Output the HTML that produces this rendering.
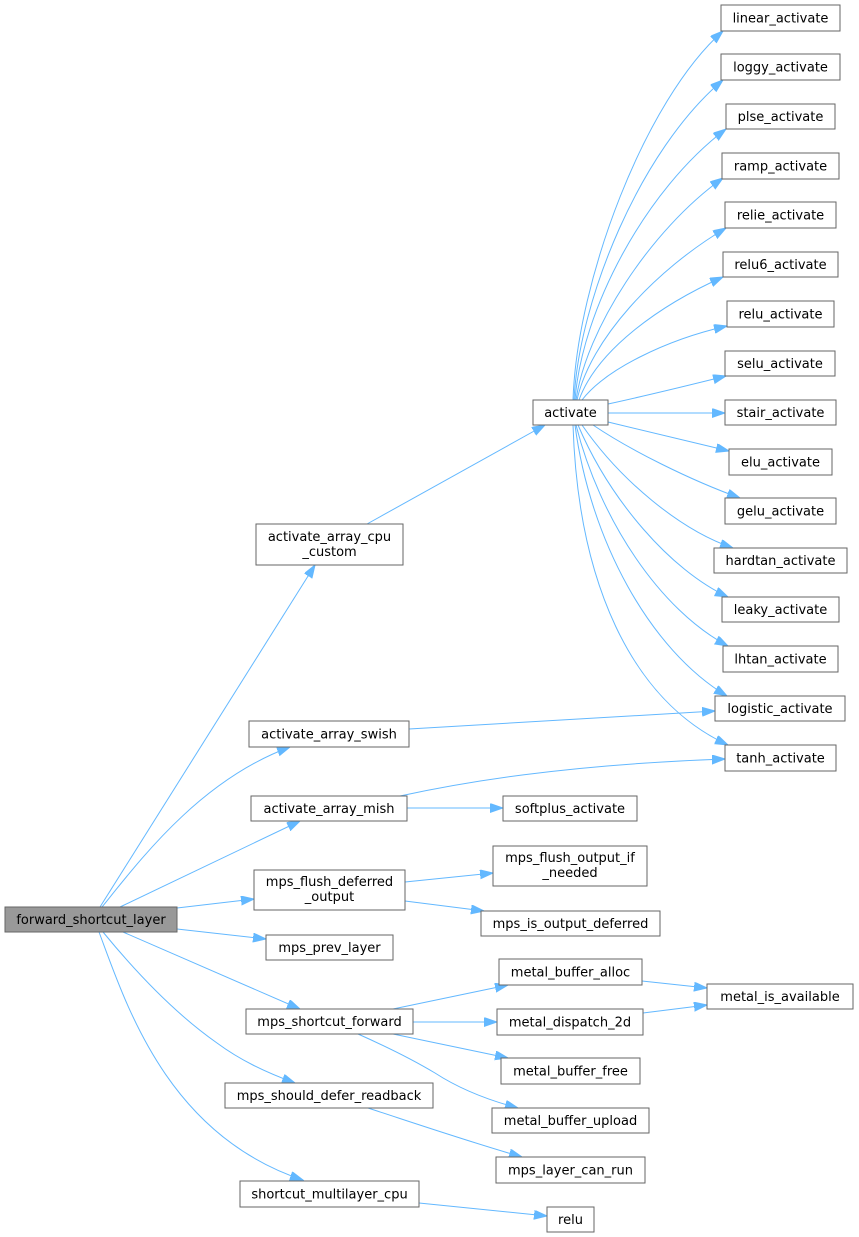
<!DOCTYPE html>
<html><head><meta charset="utf-8"><style>
html,body{margin:0;padding:0;background:#fff;}
svg{display:block;}
text{font-family:"DejaVu Sans","Liberation Sans",sans-serif;font-size:13px;fill:#000;}
.n{fill:#fff;stroke:#666;stroke-width:1;}
.e{fill:none;stroke:#63b8ff;stroke-width:1;}
</style></head><body>
<svg width="859" height="1237" viewBox="0 0 859 1237" xmlns="http://www.w3.org/2000/svg">
<defs>
<marker id="a" markerWidth="14" markerHeight="10" refX="13" refY="4.5" orient="auto" markerUnits="userSpaceOnUse">
<path d="M0,0 L13,4.5 L0,9 z" fill="#63b8ff" stroke="#63b8ff" stroke-width="1"/>
</marker>
</defs>
<rect width="859" height="1237" fill="#fff"/>

<g marker-end="url(#a)">
<path class="e" d="M573,400 C577,280 645,100 723,31"/>
<path class="e" d="M574,400 C579,300 640,150 723,80"/>
<path class="e" d="M575,400 C582,310 645,190 726,129"/>
<path class="e" d="M576,400 C586,330 650,230 723,178"/>
<path class="e" d="M577,400 C590,340 655,270 726,228"/>
<path class="e" d="M579,400 C597,350 660,305 723,277"/>
<path class="e" d="M582,400 C605,370 665,340 727,326"/>
<path class="e" d="M608,404 C640,397 690,385 726,376"/>
<path class="e" d="M608,413 L725,413"/>
<path class="e" d="M608,422 L729,451"/>
<path class="e" d="M593,425 C630,450 690,480 740,498"/>
<path class="e" d="M582,425 C620,480 680,530 733,548"/>
<path class="e" d="M578,425 C610,500 670,570 728,597"/>
<path class="e" d="M576,425 C600,520 660,610 728,646"/>
<path class="e" d="M575,425 C590,540 650,650 727,696"/>
<path class="e" d="M573,425 C578,580 630,700 728,745"/>

<path class="e" d="M367,524 L545,425"/>
<path class="e" d="M100,907 L315,565"/>
<path class="e" d="M102,907 C140,860 200,780 290,747"/>
<path class="e" d="M120,907 L300,821"/>
<path class="e" d="M177,908 L254,899"/>
<path class="e" d="M177,929 L266,939"/>
<path class="e" d="M123,932 L300,1009"/>
<path class="e" d="M103,932 C130,965 170,1010 217,1043 C240,1060 265,1072 295,1083"/>
<path class="e" d="M99,932 C126,1004 167,1135 303,1180"/>

<path class="e" d="M409,729 L715,711"/>
<path class="e" d="M400,796 C460,783 560,765 725,759"/>
<path class="e" d="M407,808 L503,808"/>

<path class="e" d="M405,882 L493,873"/>
<path class="e" d="M405,901 L484,911"/>

<path class="e" d="M393,1009 L508,985"/>
<path class="e" d="M413,1022 L497,1022"/>
<path class="e" d="M393,1034 L508,1058"/>
<path class="e" d="M358,1034 C385,1046 410,1058 435,1073 C455,1086 480,1098 518,1108"/>

<path class="e" d="M368,1108 C420,1125 470,1142 522,1157"/>
<path class="e" d="M419,1203 L547,1216"/>

<path class="e" d="M642,981 L707,988"/>
<path class="e" d="M643,1013 L707,1005"/>
</g>

<rect x="5" y="907" width="172" height="25" fill="#999" stroke="#666"/>
<text x="91" y="924" text-anchor="middle">forward_shortcut_layer</text>

<rect class="n" x="256" y="524" width="147" height="41"/>
<text x="329.5" y="541" text-anchor="middle">activate_array_cpu</text>
<text x="329.5" y="556" text-anchor="middle">_custom</text>

<rect class="n" x="249" y="721" width="160" height="26"/>
<text x="329" y="738.5" text-anchor="middle">activate_array_swish</text>

<rect class="n" x="251" y="796" width="156" height="25"/>
<text x="329" y="813" text-anchor="middle">activate_array_mish</text>

<rect class="n" x="254" y="870" width="151" height="40"/>
<text x="329.5" y="886" text-anchor="middle">mps_flush_deferred</text>
<text x="329.5" y="901" text-anchor="middle">_output</text>

<rect class="n" x="266" y="935" width="127" height="25"/>
<text x="329.5" y="952" text-anchor="middle">mps_prev_layer</text>

<rect class="n" x="246" y="1009" width="167" height="25"/>
<text x="329.5" y="1026" text-anchor="middle">mps_shortcut_forward</text>

<rect class="n" x="225" y="1083" width="208" height="25"/>
<text x="329" y="1100" text-anchor="middle">mps_should_defer_readback</text>

<rect class="n" x="240" y="1181" width="179" height="26"/>
<text x="329.5" y="1198.5" text-anchor="middle">shortcut_multilayer_cpu</text>

<rect class="n" x="533" y="400" width="75" height="25"/>
<text x="570.5" y="417" text-anchor="middle">activate</text>

<rect class="n" x="503" y="796" width="134" height="25"/>
<text x="570" y="813" text-anchor="middle">softplus_activate</text>

<rect class="n" x="493" y="846" width="154" height="40"/>
<text x="570" y="862" text-anchor="middle">mps_flush_output_if</text>
<text x="570" y="877" text-anchor="middle">_needed</text>

<rect class="n" x="481" y="911" width="179" height="25"/>
<text x="570.5" y="928" text-anchor="middle">mps_is_output_deferred</text>

<rect class="n" x="499" y="959" width="143" height="26"/>
<text x="570.5" y="976.5" text-anchor="middle">metal_buffer_alloc</text>

<rect class="n" x="497" y="1009" width="146" height="26"/>
<text x="570" y="1026.5" text-anchor="middle">metal_dispatch_2d</text>

<rect class="n" x="501" y="1058" width="139" height="26"/>
<text x="570.5" y="1075.5" text-anchor="middle">metal_buffer_free</text>

<rect class="n" x="492" y="1108" width="157" height="25"/>
<text x="570.5" y="1125" text-anchor="middle">metal_buffer_upload</text>

<rect class="n" x="496" y="1157" width="149" height="26"/>
<text x="570.5" y="1174.5" text-anchor="middle">mps_layer_can_run</text>

<rect class="n" x="547" y="1207" width="47" height="25"/>
<text x="570.5" y="1224" text-anchor="middle">relu</text>

<rect class="n" x="707" y="984" width="146" height="25"/>
<text x="780" y="1001" text-anchor="middle">metal_is_available</text>

<rect class="n" x="721" y="5" width="119" height="26"/>
<text x="780.5" y="22.5" text-anchor="middle">linear_activate</text>
<rect class="n" x="721" y="54" width="119" height="26"/>
<text x="780.5" y="71.5" text-anchor="middle">loggy_activate</text>
<rect class="n" x="726" y="104" width="109" height="25"/>
<text x="780.5" y="121" text-anchor="middle">plse_activate</text>
<rect class="n" x="722" y="153" width="117" height="26"/>
<text x="780.5" y="170.5" text-anchor="middle">ramp_activate</text>
<rect class="n" x="725" y="202" width="111" height="26"/>
<text x="780.5" y="219.5" text-anchor="middle">relie_activate</text>
<rect class="n" x="723" y="252" width="115" height="25"/>
<text x="780.5" y="269" text-anchor="middle">relu6_activate</text>
<rect class="n" x="727" y="301" width="107" height="26"/>
<text x="780.5" y="318.5" text-anchor="middle">relu_activate</text>
<rect class="n" x="725" y="351" width="110" height="25"/>
<text x="780" y="368" text-anchor="middle">selu_activate</text>
<rect class="n" x="725" y="400" width="111" height="25"/>
<text x="780.5" y="417" text-anchor="middle">stair_activate</text>
<rect class="n" x="729" y="449" width="103" height="26"/>
<text x="780.5" y="466.5" text-anchor="middle">elu_activate</text>
<rect class="n" x="725" y="498" width="111" height="26"/>
<text x="780.5" y="515.5" text-anchor="middle">gelu_activate</text>
<rect class="n" x="714" y="548" width="133" height="25"/>
<text x="780.5" y="565" text-anchor="middle">hardtan_activate</text>
<rect class="n" x="722" y="597" width="117" height="25"/>
<text x="780.5" y="614" text-anchor="middle">leaky_activate</text>
<rect class="n" x="723" y="646" width="115" height="26"/>
<text x="780.5" y="663.5" text-anchor="middle">lhtan_activate</text>
<rect class="n" x="715" y="696" width="130" height="25"/>
<text x="780" y="713" text-anchor="middle">logistic_activate</text>
<rect class="n" x="725" y="745" width="111" height="26"/>
<text x="780.5" y="762.5" text-anchor="middle">tanh_activate</text>
</svg>
</body></html>
